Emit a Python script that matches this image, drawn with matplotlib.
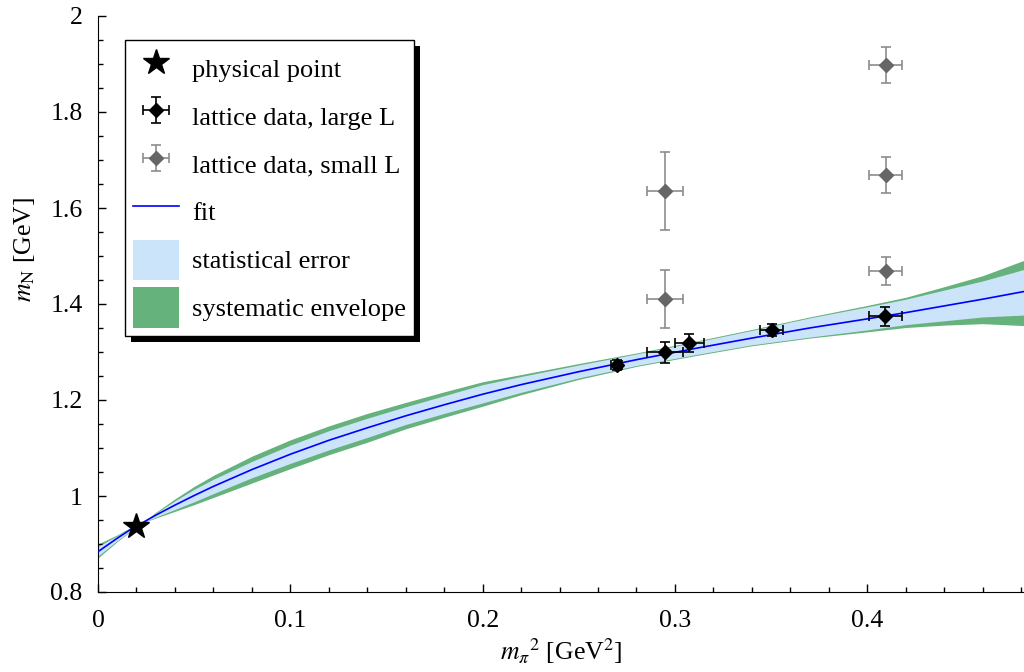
import matplotlib
matplotlib.use("Agg")
import matplotlib.pyplot as plt
from matplotlib.lines import Line2D
from matplotlib.patches import Patch, Rectangle
from matplotlib.ticker import MultipleLocator, FuncFormatter
from matplotlib.transforms import IdentityTransform

plt.rcParams["font.family"] = "Liberation Serif"
plt.rcParams["mathtext.fontset"] = "stix"
plt.rcParams["font.size"] = 18.5

# physical point
phys_x = 0.0195
phys_y = 0.938

# lattice data, large volume
large_x = [0.2697, 0.2948, 0.3075, 0.3503, 0.4094]
large_xerr = [0.003, 0.0095, 0.0076, 0.006, 0.0087]
large_y = [1.273, 1.299, 1.318, 1.346, 1.374]
large_yerr = [0.011, 0.022, 0.019, 0.013, 0.019]

# lattice data, small volume
small_x = [0.2948, 0.2948, 0.4096, 0.4096, 0.4096]
small_xerr = [0.0095, 0.0095, 0.0087, 0.0087, 0.0087]
small_y = [1.635, 1.410, 1.898, 1.669, 1.469]
small_yerr = [0.081, 0.061, 0.038, 0.038, 0.029]

# fit curve with its error bands
band_x = [0.0, 0.01, 0.0195, 0.023, 0.03, 0.04, 0.05, 0.06, 0.08, 0.10, 0.12,
          0.14, 0.16, 0.18, 0.20, 0.22, 0.25, 0.28, 0.31, 0.34, 0.37, 0.40,
          0.42, 0.44, 0.46, 0.4815]
fit_y = [0.884, 0.912, 0.937, 0.944, 0.960, 0.981, 1.001, 1.020, 1.055, 1.087,
         1.116, 1.142, 1.167, 1.190, 1.212, 1.232, 1.259, 1.284, 1.307, 1.329,
         1.350, 1.369, 1.382, 1.396, 1.410, 1.426]
stat_hi = [0.895, 0.917, 0.939, 0.944, 0.964, 0.990, 1.014, 1.035, 1.072, 1.106,
           1.136, 1.162, 1.186, 1.209, 1.232, 1.249, 1.273, 1.296, 1.320, 1.345,
           1.371, 1.394, 1.410, 1.429, 1.448, 1.472]
stat_lo = [0.875, 0.907, 0.935, 0.944, 0.956, 0.972, 0.988, 1.005, 1.038, 1.068,
           1.096, 1.122, 1.149, 1.172, 1.194, 1.216, 1.246, 1.272, 1.294, 1.315,
           1.331, 1.346, 1.357, 1.365, 1.373, 1.377]
sys_hi = [0.900, 0.919, 0.940, 0.944, 0.966, 0.994, 1.020, 1.043, 1.083, 1.117,
          1.146, 1.172, 1.195, 1.217, 1.238, 1.253, 1.276, 1.298, 1.322, 1.347,
          1.373, 1.397, 1.414, 1.436, 1.459, 1.491]
sys_lo = [0.871, 0.905, 0.934, 0.944, 0.954, 0.968, 0.982, 0.997, 1.027, 1.057,
          1.086, 1.112, 1.140, 1.164, 1.187, 1.211, 1.243, 1.270, 1.292, 1.313,
          1.329, 1.342, 1.351, 1.356, 1.359, 1.355]

blue_band = "#cce4fa"
green_band = "#66b27c"
gray_marker = "#666666"
gray_bar = "#8c8c8c"

fig = plt.figure(figsize=(10.24, 6.72), dpi=100)
ax = fig.add_axes([98 / 1024, 1 - 592 / 672, 926 / 1024, 576 / 672])

ax.fill_between(band_x, sys_lo, sys_hi, color=green_band, lw=0, zorder=1)
ax.fill_between(band_x, stat_lo, stat_hi, color=blue_band, lw=0, zorder=2)
ax.plot(band_x, fit_y, color="#0000ff", lw=1.2, zorder=3)

ax.errorbar(small_x, small_y, xerr=small_xerr, yerr=small_yerr, fmt="D",
            color=gray_marker, ms=7, ecolor=gray_bar, elinewidth=1.2,
            capsize=3.5, capthick=1.2, zorder=4)
ax.errorbar(large_x, large_y, xerr=large_xerr, yerr=large_yerr, fmt="D",
            color="black", ms=7, ecolor="black", elinewidth=1.2,
            capsize=3.5, capthick=1.2, zorder=5)
ax.plot([phys_x], [phys_y], marker="*", color="black", ms=19, ls="none", zorder=6)

ax.set_xlim(0, 0.4815)
ax.set_ylim(0.8, 2.0)
ax.xaxis.set_major_locator(MultipleLocator(0.1))
ax.xaxis.set_minor_locator(MultipleLocator(0.02))
ax.yaxis.set_major_locator(MultipleLocator(0.2))
ax.yaxis.set_minor_locator(MultipleLocator(0.05))
ax.xaxis.set_major_formatter(FuncFormatter(lambda v, p: f"{v:g}"))
ax.yaxis.set_major_formatter(FuncFormatter(lambda v, p: f"{v:g}"))
ax.tick_params(which="both", direction="in", top=False, right=False, width=1)
ax.tick_params(which="major", length=5.5)
ax.tick_params(which="minor", length=3.5)
ax.tick_params(axis="x", pad=13)
ax.tick_params(axis="y", pad=11)
ax.spines["top"].set_visible(False)
ax.spines["right"].set_visible(False)

ax.set_xlabel(r"$m_{\pi}{}^{2}$ [GeV$^{2}$]", labelpad=3)
ax.set_ylabel(r"$m_{\mathrm{N}}$ [GeV]")
ax.yaxis.set_label_coords(-0.066, 0.594)

handles = [
    Line2D([], [], marker="*", color="black", ms=19, ls="none"),
    ax.containers[1],
    ax.containers[0],
    Line2D([], [], color="#0000ff", lw=1.2),
    Patch(facecolor=blue_band, edgecolor="none"),
    Patch(facecolor=green_band, edgecolor="none"),
]
labels = ["physical point", "lattice data, large L", "lattice data, small L",
          "fit", "statistical error", "systematic envelope"]
leg = ax.legend(handles, labels, loc="upper left",
                bbox_to_anchor=((125 - 98) / 926, 1 - (40 - 16) / 576),
                borderaxespad=0, fancybox=False, framealpha=1, edgecolor="black",
                fontsize=19, handlelength=1.75, handleheight=2.0,
                handletextpad=0.5, labelspacing=0.27, borderpad=0.3)
leg.get_frame().set_linewidth(1.0)
leg.set_zorder(10)

# solid drop shadow behind the legend box
fig.canvas.draw()
bb = leg.get_window_extent()
ax.add_patch(Rectangle((bb.x0 + 6, bb.y0 - 6), bb.width, bb.height,
                       transform=IdentityTransform(), facecolor="black",
                       edgecolor="none", zorder=9, clip_on=False))

fig.savefig("out.png", dpi=100)
